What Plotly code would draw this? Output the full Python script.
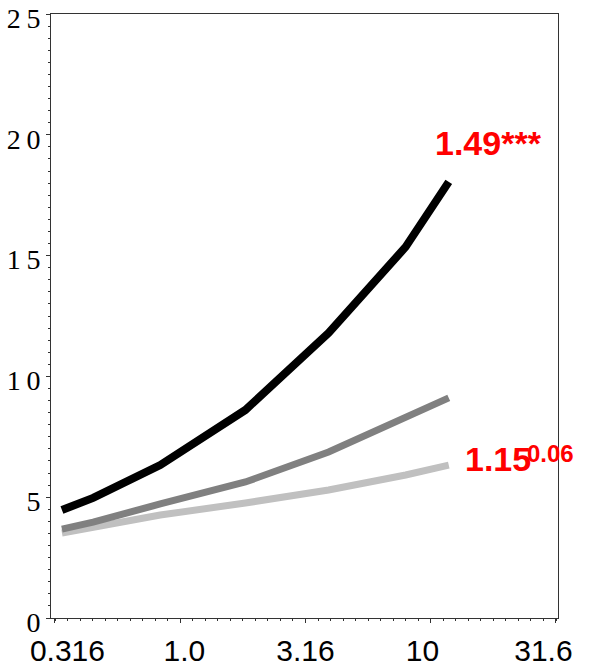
import numpy as np
import plotly.graph_objects as go

# Data
x_vals = [0.337, 0.449, 0.832, 1.82, 3.91, 7.94, 11.8]
black_y = [4.47, 4.97, 6.33, 8.61, 11.8, 15.36, 18.05]
gray_y = [3.68, 3.97, 4.72, 5.63, 6.87, 8.32, 9.11]
light_y = [3.52, 3.77, 4.26, 4.76, 5.30, 5.92, 6.33]

x_tickvals = [0.316, 1.0, 3.16, 10, 31.6]
x_ticktext = ["\u00a0\u00a0\u00a00.316", "\u00a01.0", "3.16", "10\u00a0\u00a0", "31.6\u00a0\u00a0\u00a0"]
y_tickvals = [0, 5, 10, 15, 20, 25]
y_ticktext = ["0", "5", "1\u20090", "1\u20095", "2\u20090", "2\u20095"]

label_top = "1.49***"
label_bottom_main = "1.15"
label_bottom_sup = "0.06"

fig = go.Figure()
fig.add_trace(go.Scatter(x=x_vals, y=light_y, mode="lines",
                         line=dict(color="#c0c0c0", width=7), showlegend=False))
fig.add_trace(go.Scatter(x=x_vals, y=gray_y, mode="lines",
                         line=dict(color="#808080", width=7), showlegend=False))
fig.add_trace(go.Scatter(x=x_vals, y=black_y, mode="lines",
                         line=dict(color="#000000", width=8), showlegend=False))

minor_x = [10 ** v for v in np.arange(-0.5, 1.5001, 0.05)]

red_font = dict(family="Liberation Sans, Arial", size=34, color="#ff0000", weight="bold")

fig.update_layout(
    width=597, height=670,
    margin=dict(l=51, r=39, t=14, b=52),
    paper_bgcolor="white", plot_bgcolor="white",
    xaxis=dict(
        type="log", range=[-0.516, 1.508], automargin=False,
        tickmode="array", tickvals=x_tickvals, ticktext=x_ticktext,
        ticks="outside", ticklen=4, tickwidth=1, tickcolor="#333",
        tickfont=dict(family="Liberation Sans, Arial", size=30, color="black"),
        ticklabelstandoff=2, ticklabeloverflow="allow",
        showline=True, linecolor="#333", linewidth=1, mirror=True,
        showgrid=False, zeroline=False,
        minor=dict(tickmode="array", tickvals=minor_x, ticks="outside",
                   ticklen=2, tickcolor="#333", showgrid=False),
    ),
    yaxis=dict(
        range=[0, 25], automargin=False,
        tickmode="array", tickvals=y_tickvals, ticktext=y_ticktext,
        ticks="outside", ticklen=4, tickwidth=1, tickcolor="#333",
        tickfont=dict(family="Liberation Serif, Times New Roman", size=28, color="black"),
        ticklabelshift=4, ticklabeloverflow="allow",
        showline=True, linecolor="#333", linewidth=1, mirror=True,
        showgrid=False, zeroline=False,
        minor=dict(dtick=0.5, ticks="outside", ticklen=2, tickcolor="#333", showgrid=False),
    ),
    annotations=[
        dict(text=label_top, xref="paper", yref="paper", x=(433 - 51) / 507,
             y=(618 - 143) / 604, xanchor="left", yanchor="middle", showarrow=False,
             font=red_font),
        dict(text=label_bottom_main, xref="paper", yref="paper", x=(463 - 51) / 507,
             y=(618 - 459) / 604, xanchor="left", yanchor="middle", showarrow=False,
             font=red_font),
        dict(text=label_bottom_sup, xref="paper", yref="paper", x=(525 - 51) / 507,
             y=(618 - 453) / 604, xanchor="left", yanchor="middle", showarrow=False,
             font=dict(family="Liberation Sans, Arial", size=24, color="#ff0000", weight="bold")),
    ],
)

fig.write_html("out.html")
